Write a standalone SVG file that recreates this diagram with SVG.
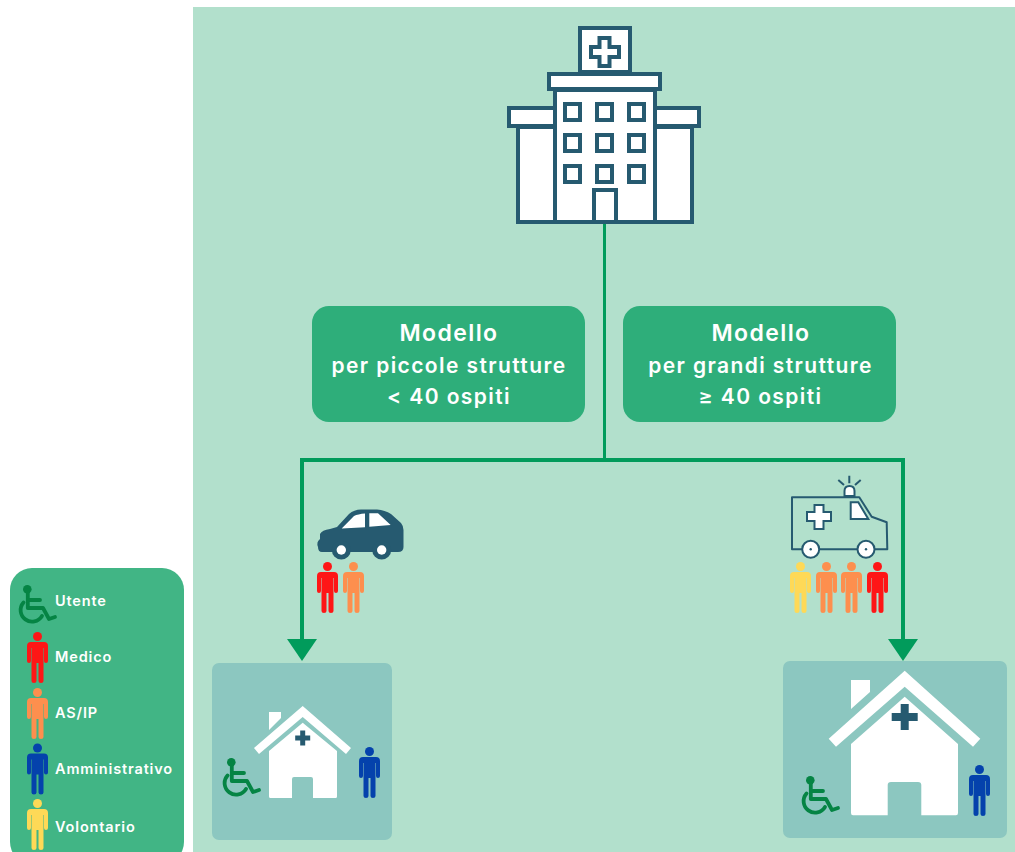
<svg xmlns="http://www.w3.org/2000/svg" width="1015" height="852" viewBox="0 0 1015 852">
<style>
text{font-family:"Inter","Liberation Sans",sans-serif;fill:#fff;text-anchor:middle}
.t1{font-size:23px;font-weight:600;letter-spacing:1.4px}
.t2{font-size:21px;font-weight:600;letter-spacing:1.4px}
.leg{font-size:14.5px;font-weight:600;text-anchor:start;letter-spacing:.85px}
.ds{stroke:#265a70;fill:#fff;stroke-width:4}
.thin{stroke:#265a70;fill:#fff;stroke-width:2}
.panel{fill:#8cc7c0}
.red{fill:#fe1616}.org{fill:#fd8f4e}.blu{fill:#0442ac}.yel{fill:#fed957}
.conn{fill:none;stroke:#019b5b}
</style>
<defs>
<g id="person">
<circle cx="10.5" cy="4.5" r="4.5"/>
<path d="M4 10H17Q21 10 21 14V29Q21 31 19 31T17 29V16H16.5V49Q16.5 51 14 51T11.5 49V31H9.5V49Q9.5 51 7 51T4.5 49V16H4V29Q4 31 2 31T0 29V14Q0 10 4 10Z"/>
</g>
<g id="wheel">
<circle cx="9.3" cy="4.3" r="4.3" fill="#058444"/>
<path d="M9.8 5V23H25L31 34L37 32M10 15H22M5.5 17.5A11.5 11.5 0 1 0 24 31" fill="none" stroke="#058444" stroke-width="3.8" stroke-linecap="round" stroke-linejoin="round"/>
</g>
</defs>
<rect width="1015" height="852" fill="#fff"/>
<rect x="193" y="7" width="822" height="845" fill="#b2e0cc"/>

<g id="connectors" class="conn">
<path d="M604.5 224V460" stroke-width="3"/>
<path d="M302 460H903" stroke-width="4"/>
<path d="M302 458V640" stroke-width="4"/>
<path d="M903 458V640" stroke-width="4"/>
<path d="M287 639H317L302 661Z" fill="#019b5b" stroke="none"/>
<path d="M888 639H918L903 661Z" fill="#019b5b" stroke="none"/>
</g>

<g id="hospital">
<rect class="ds" x="518" y="127" width="174" height="95"/>
<rect class="ds" x="509" y="108" width="190" height="18"/>
<rect class="ds" x="555" y="90" width="100" height="132"/>
<rect class="ds" x="580" y="28" width="50" height="44"/>
<rect class="ds" x="549" y="74" width="111" height="15"/>
<path class="ds" stroke-width="3.5" d="M599.5 38H609.5V47H619V57H609.5V66H599.5V57H591V47H599.5Z"/>
<g class="ds">
<rect x="565" y="104" width="15" height="16"/><rect x="597" y="104" width="15" height="16"/><rect x="629" y="104" width="15" height="16"/>
<rect x="565" y="135" width="15" height="16"/><rect x="597" y="135" width="15" height="16"/><rect x="629" y="135" width="15" height="16"/>
<rect x="565" y="166" width="15" height="16"/><rect x="597" y="166" width="15" height="16"/><rect x="629" y="166" width="15" height="16"/>
<rect x="594" y="190" width="22" height="32"/>
</g>
</g>

<g id="box-small">
<rect x="312" y="306" width="273" height="116" rx="17" fill="#2eae7a"/>
<text class="t1" x="449" y="340.5">Modello</text>
<text class="t2" x="449" y="373">per piccole strutture</text>
<text class="t2" x="449" y="404">&lt; 40 ospiti</text>
</g>
<g id="box-large">
<rect x="623" y="306" width="273" height="116" rx="17" fill="#2eae7a"/>
<text class="t1" x="761" y="340.5">Modello</text>
<text class="t2" x="760.5" y="373">per grandi strutture</text>
<text class="t2" x="760.5" y="404">≥ 40 ospiti</text>
</g>

<g id="car">
<path fill="#265a70" d="M318 547Q316 542 320 539V534Q322 530 330 529L337 527L349 514Q354 509.5 361 509.5H377Q385 510 391 514L401 523Q403.5 526 403.5 530V547Q403.5 552 398 552H322Q318 552 318 547Z"/>
<circle cx="341.3" cy="550" r="9.5" fill="#265a70"/><circle cx="381.7" cy="550" r="9.5" fill="#265a70"/>
<circle cx="341.3" cy="550" r="4.7" fill="#fff"/><circle cx="381.7" cy="550" r="4.7" fill="#fff"/>
<path fill="#fff" d="M341.7 528.5L354 516Q358 514 365 513.5V527.3ZM369.3 513.3H378L390.7 525L369.3 526.7Z"/>
</g>
<use href="#person" class="red" x="317" y="562"/>
<use href="#person" class="org" x="343" y="562"/>

<g id="ambulance">
<path class="thin" style="fill:none" stroke-linejoin="round" d="M792 497.3H859.3L871.7 516.7L886.7 522.3L887.3 549.3H792Z"/>
<path class="thin" d="M850.7 502.3H858.3L868.3 519H850.7Z"/>
<path class="thin" d="M814.5 505H823.5V512H831V521H823.5V529H814.5V521H807V512H814.5Z"/>
<circle class="thin" cx="810.7" cy="549.3" r="8.5"/><circle class="thin" cx="866" cy="549.3" r="8.5"/>
<circle cx="810.7" cy="549.3" r="1.2" fill="#265a70"/><circle cx="866" cy="549.3" r="1.2" fill="#265a70"/>
<path class="thin" d="M844.5 496V491Q844.5 486 849.5 486T854.5 491V496Z"/>
<path d="M849.3 475.7V483.3M838.3 480L844 485M860.7 480L855 485" stroke="#265a70" stroke-width="2" fill="none"/>
</g>
<use href="#person" class="yel" x="790" y="562"/>
<use href="#person" class="org" x="816" y="562"/>
<use href="#person" class="org" x="841" y="562"/>
<use href="#person" class="red" x="867" y="562"/>

<g id="house-small">
<rect class="panel" x="212" y="663" width="180" height="177" rx="7"/>
<path fill="#fff" d="M269 712H281V718L269 730ZM254 748L302.7 706L351 748L346 754L302.7 717L259 754Z"/>
<path fill="#fff" d="M302.7 722.7L337 751V796.5Q337 798 335.5 798H313V779Q313 777 311 777H294Q292 777 292 779V798H270.5Q269 798 269 796.5V751Z"/>
<path fill="#265a70" d="M300.2 730.5H305.2V735.5H310.2V740.5H305.2V745.5H300.2V740.5H295.2V735.5H300.2Z"/>
<use href="#wheel" x="222" y="758"/>
<use href="#person" class="blu" x="359" y="747"/>
</g>

<g id="house-large">
<rect class="panel" x="783" y="661" width="224" height="177" rx="7"/>
<path fill="#fff" d="M851 680H870V692L851 709ZM828.7 738.7L904.7 670.7L980.3 738.7L973 746.7L904.7 686.7L836 746.7Z"/>
<path fill="#fff" d="M904.7 696.7L958 744V813Q958 815.3 956 815.3H921.3V785Q921.3 782 918 782H891Q887.7 782 887.7 785V815.3H853Q851 815.3 851 813V744Z"/>
<path fill="#265a70" d="M900.7 704H908.7V713H917.7V721H908.7V730H900.7V721H891.7V713H900.7Z"/>
<use href="#wheel" x="801" y="776"/>
<use href="#person" class="blu" x="969" y="765"/>
</g>

<g id="legend">
<rect x="10" y="568" width="174" height="296" rx="22" fill="#41b585"/>
<use href="#wheel" x="18" y="585"/>
<use href="#person" class="red" x="27" y="632"/>
<use href="#person" class="org" x="27" y="688"/>
<use href="#person" class="blu" x="27" y="743.5"/>
<use href="#person" class="yel" x="27" y="799"/>
<text class="leg" x="55" y="606">Utente</text>
<text class="leg" x="55" y="661.5">Medico</text>
<text class="leg" x="55" y="717.5">AS/IP</text>
<text class="leg" x="55" y="774">Amministrativo</text>
<text class="leg" x="55" y="831.5">Volontario</text>
</g>
</svg>
